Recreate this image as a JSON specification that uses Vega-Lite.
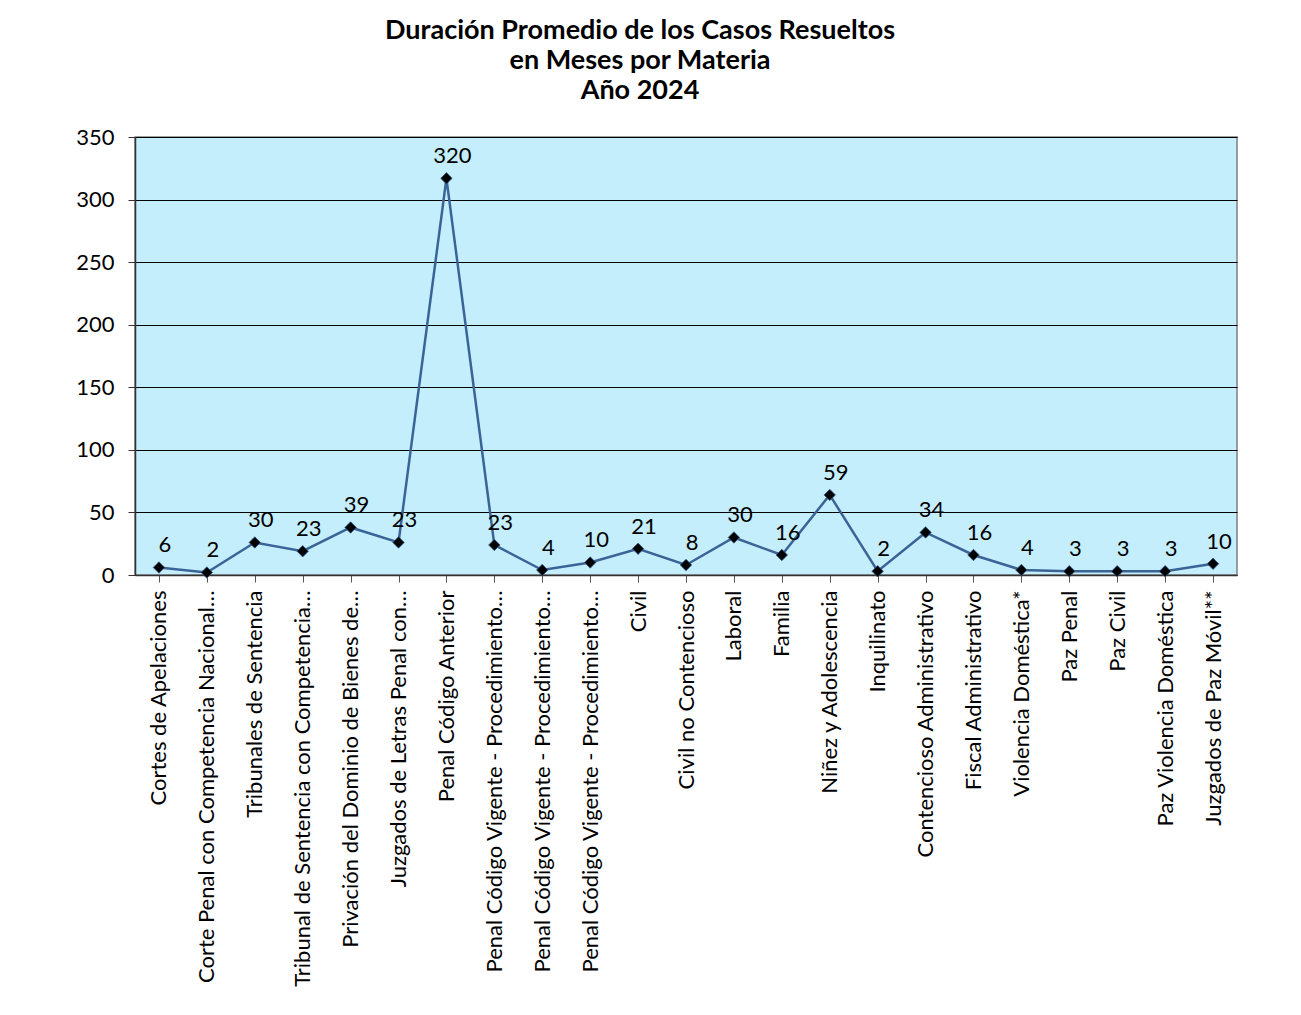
{
  "$schema": "https://vega.github.io/schema/vega-lite/v6.json",
  "width": 1102,
  "height": 438,
  "autosize": {"type": "none"},
  "padding": {"left": 135, "top": 137, "right": 64, "bottom": 440},
  "background": "white",
  "title": {
    "text": ["Duración Promedio de los Casos Resueltos", "en Meses por Materia", "Año 2024"],
    "font": "Lato",
    "fontSize": 27,
    "fontWeight": "bold",
    "color": "black",
    "anchor": "middle",
    "dx": -46,
    "offset": 21,
    "lineHeight": 30
  },
  "data": {
    "values": [
      {"materia": "Cortes de Apelaciones", "valor": 6, "etiqueta": "6"},
      {"materia": "Corte Penal con Competencia Nacional…", "valor": 2, "etiqueta": "2"},
      {"materia": "Tribunales de Sentencia", "valor": 26, "etiqueta": "30"},
      {"materia": "Tribunal de Sentencia con Competencia…", "valor": 19, "etiqueta": "23"},
      {"materia": "Privación del Dominio de Bienes de…", "valor": 38, "etiqueta": "39"},
      {"materia": "Juzgados de Letras Penal con…", "valor": 26, "etiqueta": "23"},
      {"materia": "Penal Código Anterior", "valor": 317, "etiqueta": "320"},
      {"materia": "Penal Código Vigente - Procedimiento…", "valor": 24, "etiqueta": "23"},
      {"materia": "Penal Código Vigente - Procedimiento… ", "valor": 4, "etiqueta": "4"},
      {"materia": "Penal Código Vigente - Procedimiento…  ", "valor": 10, "etiqueta": "10"},
      {"materia": "Civil", "valor": 21, "etiqueta": "21"},
      {"materia": "Civil no Contencioso", "valor": 8, "etiqueta": "8"},
      {"materia": "Laboral", "valor": 30, "etiqueta": "30"},
      {"materia": "Familia", "valor": 16, "etiqueta": "16"},
      {"materia": "Niñez y Adolescencia", "valor": 64, "etiqueta": "59"},
      {"materia": "Inquilinato", "valor": 3, "etiqueta": "2"},
      {"materia": "Contencioso Administrativo", "valor": 34, "etiqueta": "34"},
      {"materia": "Fiscal Administrativo", "valor": 16, "etiqueta": "16"},
      {"materia": "Violencia Doméstica*", "valor": 4, "etiqueta": "4"},
      {"materia": "Paz Penal", "valor": 3, "etiqueta": "3"},
      {"materia": "Paz Civil", "valor": 3, "etiqueta": "3"},
      {"materia": "Paz Violencia Doméstica", "valor": 3, "etiqueta": "3"},
      {"materia": "Juzgados de Paz Móvil**", "valor": 9, "etiqueta": "10"}
    ]
  },
  "encoding": {
    "x": {
      "field": "materia",
      "type": "nominal",
      "sort": null,
      "scale": {"paddingInner": 0, "paddingOuter": 0},
      "axis": {
        "title": null,
        "labelAngle": -90,
        "labelFont": "Lato",
        "labelFontSize": 22,
        "labelColor": "black",
        "labelPadding": 8,
        "labelLimit": 500,
        "bandPosition": 0,
        "tickColor": "#555555",
        "tickSize": 7,
        "domainColor": "#333333",
        "domainWidth": 1.5,
        "grid": false
      }
    },
    "y": {
      "field": "valor",
      "type": "quantitative",
      "scale": {"domain": [0, 350], "nice": false},
      "axis": {
        "title": null,
        "values": [0, 50, 100, 150, 200, 250, 300, 350],
        "labelFont": "Lato",
        "labelFontSize": 22,
        "labelColor": "black",
        "labelPadding": 14,
        "tickColor": "#333333",
        "tickSize": 7,
        "domainColor": "#333333",
        "domainWidth": 1.5,
        "grid": true,
        "gridColor": "black",
        "gridWidth": 1
      }
    }
  },
  "layer": [
    {
      "mark": {"type": "line", "color": "#3A6497", "strokeWidth": 2.5}
    },
    {
      "mark": {"type": "point", "shape": "diamond", "filled": true, "color": "black", "stroke": "#2F5A8C", "strokeWidth": 0.8, "size": 130, "opacity": 1}
    },
    {
      "mark": {"type": "text", "font": "Lato", "fontSize": 22, "color": "black", "dx": 6, "dy": -22, "baseline": "middle"},
      "encoding": {"text": {"field": "etiqueta"}}
    }
  ],
  "config": {
    "view": {"fill": "#C5EEFC", "stroke": "#808080", "strokeWidth": 1.5}
  }
}
